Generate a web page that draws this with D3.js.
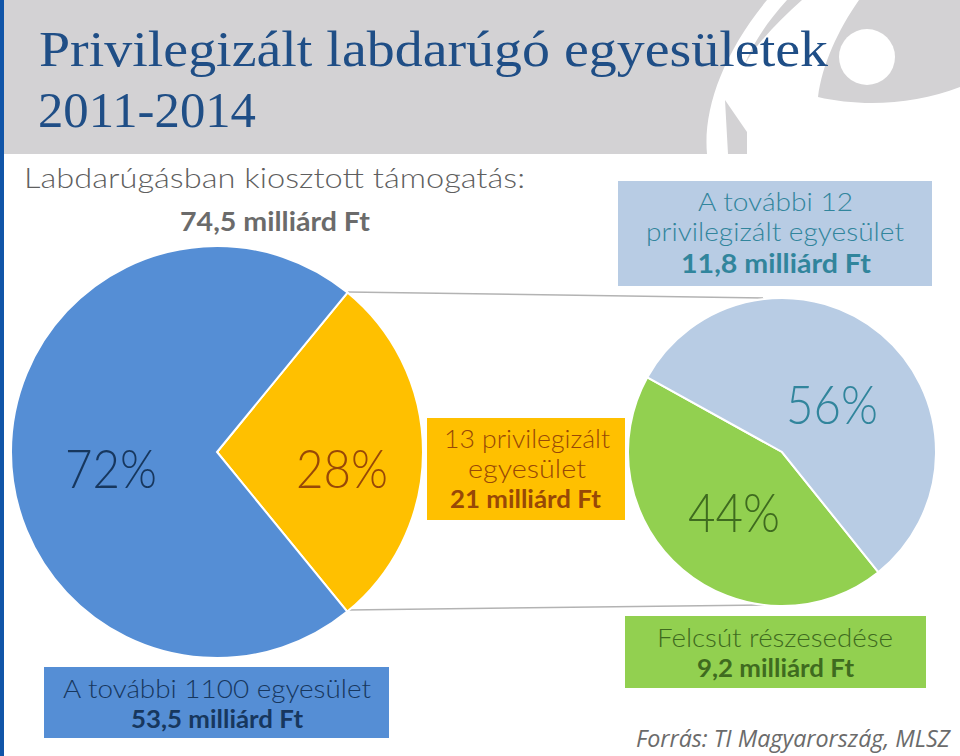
<!DOCTYPE html>
<html>
<head>
<meta charset="utf-8">
<script src="https://cdn.jsdelivr.net/npm/d3@7"></script>
<style>
  body { margin: 0; background: #fff; }
  svg { display: block; }
  text { font-family: "Lato", sans-serif; }
</style>
</head>
<body>
<div id="chart"></div>
<script>
// total split, milliard Ft
const mainValues = [21, 53.5];
const mainPercents = ["28%", "72%"];
const mainColors = ["#ffc000", "#558ed5"];

// split of the 21 milliard
const subValues = [9.2, 11.8];
const subPercents = ["44%", "56%"];
const subColors = ["#92d050", "#b8cce4"];

const width = 960, height = 756;
const toRad = Math.PI / 180;

const svg = d3.select("#chart").append("svg")
  .attr("width", width)
  .attr("height", height);

// header
svg.append("rect").attr("x", 4).attr("width", width - 4).attr("height", 154).attr("fill", "#d3d2d4");
svg.append("rect").attr("width", 4).attr("height", height).attr("fill", "#1155a8");

// logo in the header
const logo = svg.append("g").attr("fill", "#fff");
logo.append("path").attr("d", "M707,154C703,110 722,55 767,0L787,0C767,22 753,43 744,66C757,42 780,20 802,0L859,0C838,30 822,65 818,97C860,107 915,105 960,87L960,154L747,154L747,132L725,100L728,154Z");
logo.append("circle").attr("cx", 867).attr("cy", 57).attr("r", 28);

// text squeezed/stretched to the width it has in the picture
function label(x1, x2, y, size, weight, color, t) {
  return svg.append("text").attr("x", x1).attr("y", y)
    .attr("textLength", x2 - x1).attr("lengthAdjust", "spacingAndGlyphs")
    .attr("font-size", size).attr("font-weight", weight).attr("fill", color).text(t);
}

// title
label(39, 828, 66, 51, 400, "#1f4e86", "Privilegizált labdarúgó egyesületek")
  .style("font-family", "'Liberation Serif', serif");
label(38, 256, 127, 51, 400, "#1f4e86", "2011-2014")
  .style("font-family", "'Liberation Serif', serif");

label(24, 525, 188, 27, 300, "#5f5f5f", "Labdarúgásban kiosztott támogatás:");
label(180, 370, 231, 27, 700, "#6b6b6b", "74,5 milliárd Ft");

// connectors between the two pies
[[348, 292, 770, 298], [348, 610, 770, 605]].forEach(([x1, y1, x2, y2]) => {
  svg.append("line").attr("x1", x1).attr("y1", y1).attr("x2", x2).attr("y2", y2)
    .attr("stroke", "#b3b3b3").attr("stroke-width", 1.5);
});

function drawPie(cx, cy, r, values, colors, startDeg) {
  const pie = d3.pie().sort(null)
    .startAngle(startDeg * toRad)
    .endAngle((startDeg + 360) * toRad);
  const arc = d3.arc().innerRadius(0).outerRadius(r);
  svg.append("g").attr("transform", `translate(${cx},${cy})`)
    .selectAll("path")
    .data(pie(values))
    .join("path")
    .attr("d", arc)
    .attr("fill", (d, i) => colors[i])
    .attr("stroke", "#fff")
    .attr("stroke-width", 2);
}

drawPie(217, 452, 206, mainValues, mainColors, 39.3);
drawPie(782, 452, 154, subValues, subColors, 141.3);

// percent labels
label(65, 157, 488, 53, 300, "#17375e", mainPercents[1]);
label(296, 388, 488, 53, 300, "#984807", mainPercents[0]);
label(688, 780, 532, 53, 300, "#3f6b1f", subPercents[0]);
label(786, 878, 424, 53, 300, "#31859c", subPercents[1]);

// boxes with the captions
function box(x, y, w, h, fill) {
  svg.append("rect").attr("x", x).attr("y", y).attr("width", w).attr("height", h).attr("fill", fill);
}

box(618, 181, 314, 105, subColors[1]);
label(698, 853, 211, 25, 300, "#31859c", "A további 12");
label(646, 904, 241, 25, 300, "#31859c", "privilegizált egyesület");
label(681, 871, 273, 26, 700, "#31859c", "11,8 milliárd Ft");

box(427, 418, 198, 102, mainColors[0]);
label(444, 610, 448, 25, 300, "#984807", "13 privilegizált");
label(468, 586, 478, 25, 300, "#984807", "egyesület");
label(450, 601, 508, 25, 700, "#984807", "21 milliárd Ft");

box(625, 616, 301, 72, subColors[0]);
label(657, 893, 647, 25, 300, "#3f6b1f", "Felcsút részesedése");
label(697, 854, 677, 25, 700, "#3f6b1f", "9,2 milliárd Ft");

box(44, 667, 345, 71, mainColors[1]);
label(63, 371, 698, 25, 300, "#17375e", "A további 1100 egyesület");
label(131, 303, 728, 25, 700, "#17375e", "53,5 milliárd Ft");

label(636, 950, 747, 23, 400, "#6b6b6b", "Forrás: TI Magyarország, MLSZ")
  .attr("font-style", "italic")
  .style("font-family", "'Open Sans', sans-serif");
</script>
</body>
</html>
